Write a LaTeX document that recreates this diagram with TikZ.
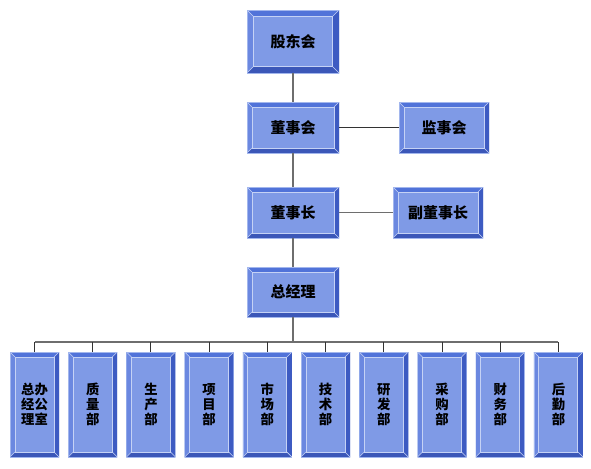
\documentclass[tikz,border=0pt]{standalone}
\usepackage{fontspec}
\newfontfamily\cjk{Noto Sans CJK SC}
\definecolor{face}{HTML}{7F9AE6}
\definecolor{btop}{HTML}{5173D9}
\definecolor{bleft}{HTML}{6B88E0}
\definecolor{bright}{HTML}{3D5BC2}
\definecolor{bbot}{HTML}{3B57B8}
\definecolor{hl}{HTML}{C5D2F5}
\definecolor{conn}{HTML}{6E6E6E}
\tikzset{
  bw/.store in=\bw, bw=3.75pt,
  bev/.style 2 args={rectangle, inner sep=0pt, minimum width=#1*0.75pt,
    minimum height=#2*0.75pt, fill=face, align=center,
    path picture={
      \coordinate (pNW) at (path picture bounding box.north west);
      \coordinate (pNE) at (path picture bounding box.north east);
      \coordinate (pSW) at (path picture bounding box.south west);
      \coordinate (pSE) at (path picture bounding box.south east);
      \fill[btop] (pNW) -- (pNE) -- ([xshift=-\bw,yshift=-\bw]pNE) -- ([xshift=\bw,yshift=-\bw]pNW) -- cycle;
      \fill[bleft] (pNW) -- (pSW) -- ([xshift=\bw,yshift=\bw]pSW) -- ([xshift=\bw,yshift=-\bw]pNW) -- cycle;
      \fill[bright] (pNE) -- (pSE) -- ([xshift=-\bw,yshift=\bw]pSE) -- ([xshift=-\bw,yshift=-\bw]pNE) -- cycle;
      \fill[bbot] (pSW) -- (pSE) -- ([xshift=-\bw,yshift=\bw]pSE) -- ([xshift=\bw,yshift=\bw]pSW) -- cycle;
      \draw[hl, line width=0.4pt] (pNW) -- ([xshift=\bw,yshift=-\bw]pNW)
        (pNE) -- ([xshift=-\bw,yshift=-\bw]pNE)
        (pSW) -- ([xshift=\bw,yshift=\bw]pSW)
        (pSE) -- ([xshift=-\bw,yshift=\bw]pSE);
      \draw[hl, line width=0.75pt] ([xshift=\bw,yshift=\bw]pSW) rectangle ([xshift=-\bw,yshift=-\bw]pNE);
      \draw[hl!70!btop, line width=0.5pt] (pSW) rectangle (pNE);
    }},
  topbox/.style={bev={92}{51}, font=\cjk\bfseries\fontsize{11.25pt}{13pt}\selectfont},
  sidebox/.style={bev={90}{51}, font=\cjk\bfseries\fontsize{11.25pt}{13pt}\selectfont},
  dept/.style={bev={49}{105}, font=\cjk\bfseries\fontsize{10pt}{11.3pt}\selectfont},
  link/.style={draw=conn, line width=1.1pt},
  thin/.style={draw=black!80, line width=0.75pt}
}
\begin{document}
\begin{tikzpicture}[x=0.75pt, y=-0.75pt]
\fill[white] (0,0) rectangle (591,468);
\useasboundingbox (0,0) rectangle (591,468);
\node[topbox, minimum height=63*0.75pt, bw=4.9pt] (gdh) at (293,41.5) {股东会};
\node[topbox] (dsh) at (293,127.5) {董事会};
\node[sidebox] (jsh) at (444,127.5) {监事会};
\node[topbox] (dsz) at (293,212.5) {董事长};
\node[sidebox] (fdsz) at (438,212.5) {副董事长};
\node[topbox, minimum height=50*0.75pt] (zjl) at (293,292) {总经理};
\foreach \i/\t in {0/{总办\\经公\\理室},1/{质\\量\\部},2/{生\\产\\部},3/{项\\目\\部},4/{市\\场\\部},5/{技\\术\\部},6/{研\\发\\部},7/{采\\购\\部},8/{财\\务\\部},9/{后\\勤\\部}}{
  \node[dept] (d\i) at ({34.5+\i*58.22},404.5) {\t};
}
\coordinate (bus) at (293,342);
\draw[link] (gdh.south) -- (dsh.north);
\draw[link] (dsh.south) -- (dsz.north);
\draw[link] (dsz.south) -- (zjl.north);
\draw[thin] (dsh.east) -- (jsh.west);
\draw[link] (dsz.east) -- (fdsz.west);
\draw[link] (zjl.south) -- (bus);
\draw[link] (d0.north |- bus) -- (d9.north |- bus);
\foreach \i in {0,...,9}{
  \draw[thin] (d\i.north) -- (d\i.north |- bus);
}
\end{tikzpicture}
\end{document}
